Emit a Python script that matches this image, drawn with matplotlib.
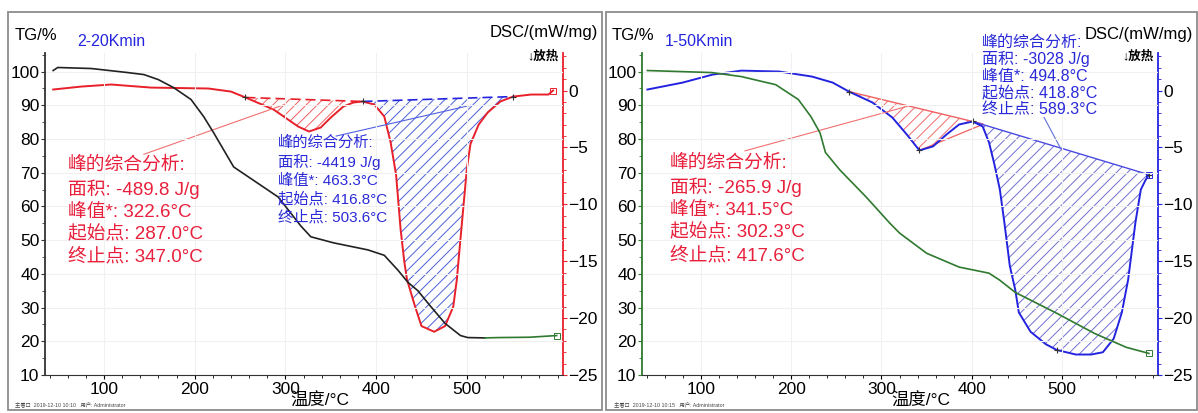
import numpy as np
import matplotlib.pyplot as plt
from matplotlib.ticker import MultipleLocator
from matplotlib.patches import Rectangle

plt.rcParams['font.family'] = ['Liberation Sans', 'Noto Sans CJK SC', 'DejaVu Sans']
plt.rcParams['hatch.linewidth'] = 0.7

# ---- left panel: 2-20Kmin ----
tg_l_temp = [44, 49, 86, 126, 144, 160, 177, 196, 210, 221, 243, 292, 317, 328, 353,
             391, 409, 424, 435, 446, 459, 476, 493, 501, 520]
tg_l_val = [100.3, 101.2, 100.9, 99.7, 99.1, 97.6, 95.2, 91.7, 86.6, 81.8, 71.7, 62.8, 54.2, 51.0, 49.2,
            47.1, 45.5, 41.1, 37.5, 35.0, 30.7, 25.3, 21.7, 21.1, 21.0]
tg_l_tail_temp = [520, 535, 569, 599]
tg_l_tail_val = [21.0, 21.1, 21.2, 21.7]

dsc_l_temp = [44, 75, 108, 152, 215, 240, 256, 287, 314, 326, 339, 350, 364, 375, 385, 398, 409,
              416, 422, 427, 431, 434, 443, 450, 464, 476, 485, 489, 492, 496, 500, 504, 513, 523,
              537, 551, 571, 590, 595]
dsc_l_val = [0.09, 0.35, 0.53, 0.26, 0.18, -0.09, -0.61, -1.67, -3.16, -3.6, -3.25, -2.37, -1.40,
             -1.05, -0.96, -1.23, -2.28, -4.56, -7.4, -12.2, -15.0, -16.6, -19.0, -20.7, -21.2,
             -20.7, -19.0, -16.6, -13.9, -10.4, -6.9, -4.7, -3.0, -1.93, -0.96, -0.53, -0.35, -0.35, 0.0]
mark_l_temp = [256, 385, 551]
mark_l_val = [-0.61, -0.96, -0.53]

red_l_lines = ['峰的综合分析:', '面积: -489.8 J/g', '峰值*: 322.6°C', '起始点: 287.0°C', '终止点: 347.0°C']
blue_l_lines = ['峰的综合分析:', '面积: -4419 J/g', '峰值*: 463.3°C', '起始点: 416.8°C', '终止点: 503.6°C']

# ---- right panel: 1-50Kmin ----
tg_r_temp = [41, 112, 145, 183, 208, 222, 232, 238, 254, 283, 309, 320, 350, 386, 419, 431, 448,
             494, 536, 571, 596]
tg_r_val = [100.3, 99.7, 98.5, 96.1, 91.7, 86.6, 81.8, 76.0, 70.8, 62.8, 55.1, 52.1, 46.1, 42.0,
            40.2, 38.1, 34.5, 28.3, 22.3, 18.2, 16.4]

dsc_r_temp = [41, 80, 113, 145, 187, 223, 246, 264, 290, 312, 328, 342, 357, 372, 386, 401, 412,
              419, 425, 431, 436, 442, 448, 452, 465, 482, 494, 515, 532, 545, 557, 566, 573, 581,
              587, 592, 596]
dsc_r_val = [0.09, 0.70, 1.4, 1.75, 1.67, 1.23, 0.70, -0.09, -1.05, -2.37, -3.86, -5.26, -4.91,
             -3.86, -2.98, -2.72, -3.16, -4.56, -6.5, -8.7, -11.6, -15.4, -17.5, -19.5, -21.2,
             -22.3, -22.8, -23.2, -23.2, -23.0, -21.8, -19.5, -16.6, -11.6, -8.7, -7.9, -7.4]
mark_r_temp = [264, 342, 401, 494, 596]
mark_r_val = [-0.09, -5.26, -2.72, -22.8, -7.4]

red_r_lines = ['峰的综合分析:', '面积: -265.9 J/g', '峰值*: 341.5°C', '起始点: 302.3°C', '终止点: 417.6°C']
blue_r_lines = ['峰的综合分析:', '面积: -3028 J/g', '峰值*: 494.8°C', '起始点: 418.8°C', '终止点: 589.3°C']

x_ticks = [100, 200, 300, 400, 500]
tg_ticks = [10, 20, 30, 40, 50, 60, 70, 80, 90, 100]
dsc_ticks = [0, -5, -10, -15, -20, -25]

RED = '#e8202a'
RED_TXT = '#e8203c'
BLUE = '#2424e0'
BLUE_TXT = '#2a2ad8'
GREEN = '#2f7a2f'

W, H = 1198, 413
fig = plt.figure(figsize=(W / 100, H / 100), dpi=100)


def fx(x):
    return x / W


def fy(y):
    return 1 - y / H


def make_axes(x0, x1, tg_color, dsc_color):
    ax = fig.add_axes([fx(x0), fy(375), (x1 - x0) / W, (375 - 53) / H])
    ax2 = ax.twinx()
    # TG curves on top of the DSC hatching
    ax.set_zorder(ax2.get_zorder() + 1)
    ax.patch.set_visible(False)
    ax.set_xlim(35, 606)
    ax.set_ylim(10, 105.5)
    ax2.set_ylim(-25, 3.3)
    for s in ['top', 'right']:
        ax.spines[s].set_visible(False)
    for s in ['top', 'left', 'bottom']:
        ax2.spines[s].set_visible(False)
    ax.spines['left'].set_color(tg_color)
    ax.spines['left'].set_linewidth(1.3)
    ax.spines['bottom'].set_color('#333333')
    ax2.spines['right'].set_color(dsc_color)
    ax2.spines['right'].set_linewidth(1.3)
    ax.set_xticks(x_ticks)
    ax.set_yticks(tg_ticks)
    ax2.set_yticks(dsc_ticks)
    ax.xaxis.set_minor_locator(MultipleLocator(20))
    ax.yaxis.set_minor_locator(MultipleLocator(5))
    ax2.yaxis.set_minor_locator(MultipleLocator(1))
    ax.tick_params(axis='both', which='major', labelsize=12.5, length=3, width=0.8, pad=1)
    ax.tick_params(axis='x', which='major', pad=2)
    ax.tick_params(axis='both', which='minor', length=2, width=0.6)
    ax.tick_params(axis='y', which='both', color=tg_color)
    ax2.tick_params(axis='y', which='major', labelsize=12.5, length=3, width=0.8, pad=1, color=dsc_color)
    ax2.tick_params(axis='y', which='minor', length=2, width=0.6, color=dsc_color)
    ax.grid(True, which='major', color='#f0f0f0', linewidth=0.8)
    ax.set_axisbelow(True)
    return ax, ax2


def write_block(lines, x, ys, size, color):
    for line, y in zip(lines, ys):
        fig.text(fx(x), fy(y), line, fontsize=size, color=color, ha='left', va='center',
                 fontweight='medium')


# frames around the two panels
for (x0, x1) in [(8, 602), (606, 1197)]:
    fig.add_artist(Rectangle((fx(x0), fy(410)), (x1 - x0) / W, (410 - 12) / H,
                             transform=fig.transFigure, fill=False, edgecolor='#8c8c8c', linewidth=1.3))

# ---------------- left panel ----------------
axl, axl2 = make_axes(45, 563, '#333333', RED)

dl_t = np.array(dsc_l_temp, dtype=float)
dl_v = np.array(dsc_l_val)
axl2.plot(dl_t, dl_v, color=RED, lw=1.4)

# red peak hatch (dashed baseline between the first two markers)
seg = (dl_t >= mark_l_temp[0]) & (dl_t <= mark_l_temp[1])
base = np.interp(dl_t[seg], mark_l_temp[:2], mark_l_val[:2])
axl2.fill_between(dl_t[seg], dl_v[seg], base, facecolor='none', edgecolor='#f06060', hatch='///', linewidth=0)
axl2.plot(mark_l_temp[:2], mark_l_val[:2], color=RED, lw=1.2, ls=(0, (6, 3)))

# blue peak hatch
seg = (dl_t >= mark_l_temp[1]) & (dl_t <= mark_l_temp[2])
base = np.interp(dl_t[seg], mark_l_temp[1:], mark_l_val[1:])
axl2.fill_between(dl_t[seg], dl_v[seg], base, facecolor='none', edgecolor='#4a5fd8', hatch='///', linewidth=0)
axl2.plot(mark_l_temp[1:], mark_l_val[1:], color=BLUE, lw=1.2, ls=(0, (6, 3)))

axl2.plot(mark_l_temp, mark_l_val, ls='none', marker='+', color='#333333', ms=5, mew=0.8)
axl2.plot([595], [0.0], ls='none', marker='s', ms=4, mfc='none', mec=RED, mew=0.7)

# leader lines
axl2.plot([144, 300], [-5.6, -1.2], color='#f07070', lw=0.8)
axl2.plot([356, 504], [-4.0, -1.3], color='#5060e0', lw=0.8)

axl.plot(tg_l_temp, tg_l_val, color='#222222', lw=1.2)
axl.plot(tg_l_tail_temp, tg_l_tail_val, color=GREEN, lw=1.2)
axl.plot([599], [21.7], ls='none', marker='s', ms=4, mfc='none', mec=GREEN, mew=0.7)

fig.text(fx(15), fy(35), 'TG/%', fontsize=12, ha='left', va='center')
fig.text(fx(77), fy(42), '2-20Kmin', fontsize=11.5, color=BLUE, ha='left', va='center')
fig.text(fx(490), fy(33), 'DSC/(mW/mg)', fontsize=12, ha='left', va='center')
fig.text(fx(527), fy(57), '↓放热', fontsize=9, fontweight='bold', ha='left', va='center')
fig.text(fx(320), fy(401), '温度/°C', fontsize=12.5, ha='center', va='center')
fig.text(fx(15), fy(404), '主看口  2019-12-10 10:10   用户: Administrator', fontsize=3.8, color='#444444',
         ha='left', va='center')

write_block(red_l_lines, 68, [165, 189, 212, 235, 258], 13.5, RED_TXT)
write_block(blue_l_lines, 278, [143, 162, 181, 199, 217], 11, BLUE_TXT)

# ---------------- right panel ----------------
axr, axr2 = make_axes(642, 1158, GREEN, BLUE)

dr_t = np.array(dsc_r_temp, dtype=float)
dr_v = np.array(dsc_r_val)

seg = (dr_t >= mark_r_temp[0]) & (dr_t <= mark_r_temp[2])
base = np.interp(dr_t[seg], [mark_r_temp[0], mark_r_temp[2]], [mark_r_val[0], mark_r_val[2]])
axr2.fill_between(dr_t[seg], dr_v[seg], base, facecolor='none', edgecolor='#f06a6a', hatch='///', linewidth=0)
slope = (mark_r_val[2] - mark_r_val[0]) / (mark_r_temp[2] - mark_r_temp[0])
ext_t = [mark_r_temp[0], 412]
ext_v = [mark_r_val[0], mark_r_val[0] + slope * (412 - mark_r_temp[0])]
axr2.plot(ext_t, ext_v, color='#f06060', lw=1.0)
axr2.plot([mark_r_temp[1], 412], [mark_r_val[1], -2.98], color='#f06060', lw=0.9)

seg = (dr_t >= mark_r_temp[2]) & (dr_t <= mark_r_temp[4])
base = np.interp(dr_t[seg], [mark_r_temp[2], mark_r_temp[4]], [mark_r_val[2], mark_r_val[4]])
axr2.fill_between(dr_t[seg], dr_v[seg], base, facecolor='none', edgecolor='#7070d0', hatch='///', linewidth=0)
axr2.plot([mark_r_temp[2], mark_r_temp[4]], [mark_r_val[2], mark_r_val[4]], color='#4a4ae0', lw=1.0)

axr2.plot(dr_t, dr_v, color=BLUE, lw=1.4)
axr2.plot(mark_r_temp, mark_r_val, ls='none', marker='+', color='#333333', ms=5, mew=0.8)
axr2.plot([596], [-7.4], ls='none', marker='s', ms=4, mfc='none', mec=BLUE, mew=0.7)

axr2.plot([149, 328], [-5.3, -1.4], color='#f07070', lw=0.8)
axr2.plot([480, 499], [-2.37, -5.2], color='#6070e0', lw=0.8)

axr.plot(tg_r_temp, tg_r_val, color=GREEN, lw=1.2)
axr.plot([596], [16.4], ls='none', marker='s', ms=4, mfc='none', mec=GREEN, mew=0.7)

fig.text(fx(612), fy(35), 'TG/%', fontsize=12, ha='left', va='center')
fig.text(fx(665), fy(42), '1-50Kmin', fontsize=11.5, color=BLUE, ha='left', va='center')
fig.text(fx(1085), fy(35), 'DSC/(mW/mg)', fontsize=12, ha='left', va='center')
fig.text(fx(1122), fy(57), '↓放热', fontsize=9, fontweight='bold', ha='left', va='center')
fig.text(fx(921), fy(401), '温度/°C', fontsize=12.5, ha='center', va='center')
fig.text(fx(614), fy(404), '主看口  2019-12-10 10:15   用户: Administrator', fontsize=3.8, color='#444444',
         ha='left', va='center')

write_block(red_r_lines, 670, [163, 187, 210, 233, 257], 13.5, RED_TXT)
write_block(blue_r_lines, 982, [42, 59, 76, 93, 109], 11.5, BLUE_TXT)

fig.savefig('out.png', dpi=100)
